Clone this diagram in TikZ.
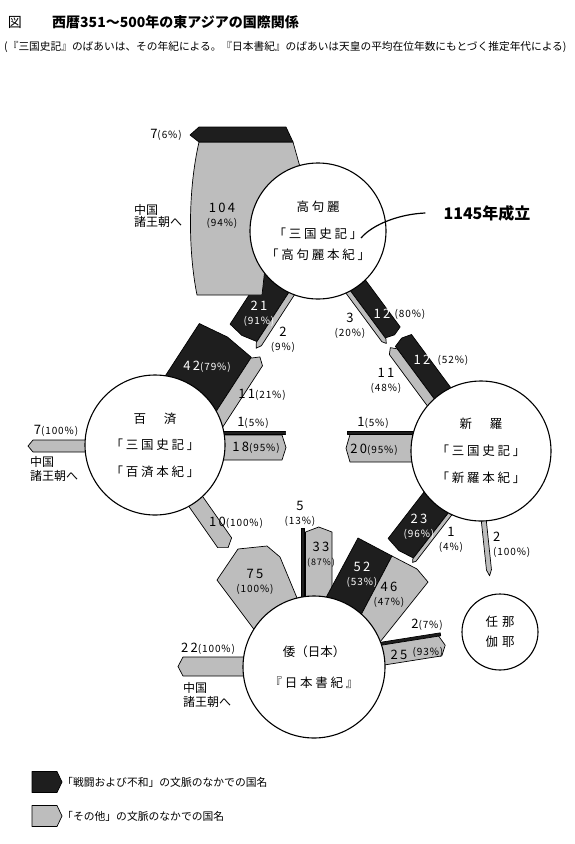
\documentclass[tikz,border=0pt]{standalone}
\usepackage{fontspec}
\setmainfont{Noto Sans CJK JP}
\newfontfamily\bookfont[LetterSpace=22]{Noto Sans CJK JP}
\newfontfamily\numfont[LetterSpace=18]{Noto Sans CJK JP}
\newfontfamily\pctfont[LetterSpace=9]{Noto Sans CJK JP}
\definecolor{inkdark}{HTML}{1E1E1E}
\definecolor{inkgrey}{HTML}{BDBDBD}
% one flow band: [tip]{style}{origin}{angle}{side a}{side b}{length}
\newcommand{\flowband}[7][4]{%
  \pgfmathsetmacro{\bandmid}{(#5+#6)/2}%
  \pgfmathsetmacro{\bandtip}{#7+#1}%
  \begin{scope}[shift={(#3)},rotate=#4]
    \draw[#2] (0,#5) -- (#7,#5) -- (\bandtip,\bandmid) -- (#7,#6) -- (0,#6) -- cycle;
  \end{scope}}
\newcommand{\share}[2]{{\numfont\fontsize{13}{13}\selectfont #1}\\{(#2\%)}}
\newcommand{\sharein}[2]{{\numfont\fontsize{13}{13}\selectfont #1}(#2\%)}

\begin{document}
\begin{tikzpicture}[x=1pt,y=-1pt,
    country/.style={circle,draw,fill=white,line width=1.1pt,inner sep=0pt,align=center,
      font=\bookfont\fontsize{12.5}{21}\selectfont},
    battleband/.style={draw,fill=inkdark,line width=0.7pt,line join=round},
    otherband/.style={draw,fill=inkgrey,line width=0.7pt,line join=round},
    count/.style={inner sep=0pt,align=center,font=\pctfont\fontsize{10}{14}\selectfont},
    whitecount/.style={count,text=white},
    bignum/.style={inner sep=0pt,font=\numfont\fontsize{13}{13}\selectfont},
    dest/.style={inner sep=0pt,anchor=west,align=left,font=\fontsize{12}{14}\selectfont},
  ]
  \useasboundingbox (0,0) rectangle (575,844);

  % title
  \node (fig) at (15,22) [inner sep=0pt,font=\fontsize{14}{14}\selectfont] {図};
  \node (title) at (52,22) [inner sep=0pt,anchor=west,font=\fontsize{14}{14}\selectfont\bfseries] {西暦351～500年の東アジアの国際関係};
  \node (subtitle) at (4,47) [inner sep=0pt,anchor=west,font=\fontsize{10.7}{11}\selectfont] {(『三国史記』のばあいは、その年紀による。『日本書紀』のばあいは天皇の平均在位年数にもとづく推定年代による)};

  \coordinate (k0) at (318,231);
  \coordinate (p0) at (155,445);
  \coordinate (s0) at (481,451);
  \coordinate (w0) at (314,667);
  \coordinate (m0) at (500,632);

  % Koguryo -> Paekche
  \flowband[3]{battleband}{k0}{-123}{23}{-9}{126}
  \flowband[5]{otherband}{k0}{-123}{-9}{-15}{127}
  % Koguryo -> China
  \draw[otherband] (199,142) -- (293,142) -- (318,231) -- (265,268) -- (262,295) -- (197,295)
    .. controls (188,250) and (188,190) .. (199,142) -- cycle;
  \draw[battleband] (190,135) -- (199,127) -- (286,127) -- (293,142) -- (199,142) -- cycle;
  % Paekche -> Koguryo
  \flowband[4]{battleband}{p0}{57}{-29}{33}{126}
  \flowband[6]{otherband}{p0}{57}{33}{47}{125}
  % Koguryo -> Silla
  \flowband[3]{battleband}{k0}{-53.5}{-9}{9.5}{126}
  \flowband[4]{otherband}{k0}{-53.5}{9.5}{14.5}{127}
  % Silla -> Koguryo
  \flowband[3]{battleband}{s0}{126.5}{13.4}{-6.6}{135}
  \flowband[5]{otherband}{s0}{126.5}{-6.6}{-16.3}{132}
  % Paekche -> Silla
  \flowband[0]{battleband}{p0}{0}{-13.5}{-10.5}{130}
  \flowband[4]{otherband}{p0}{0}{-10}{15}{127}
  % Silla -> Paekche
  \flowband[0]{battleband}{s0}{180}{20}{17}{134}
  \flowband[4]{otherband}{s0}{180}{16.5}{-11}{131}
  % Paekche -> China
  \flowband[5]{otherband}{p0}{180}{5}{-7}{122}
  % Paekche -> Wa
  \flowband[6]{otherband}{p0}{-55}{7.5}{-9.5}{120}
  % Wa -> Paekche
  \draw[otherband] (262,640) -- (217,580) -- (238,549) -- (267,546) -- (280,557) -- (302,610) -- cycle;
  % Wa -> Koguryo
  \flowband[0]{battleband}{w0}{90}{-13}{-9.5}{139}
  \flowband[5]{otherband}{w0}{90}{-8.5}{18}{135}
  % Wa -> Silla
  \draw[battleband] (321,607) -- (358,538) -- (392,556) -- (351,634) -- cycle;
  \draw[otherband] (351,634) -- (392,556) -- (417,569) -- (428,582) -- (372,652) -- cycle;
  % Silla -> Wa
  \flowband[3]{battleband}{s0}{-127.7}{20}{-12}{126}
  \flowband[3]{otherband}{s0}{-127.7}{-12}{-16}{127}
  % Silla -> Mimana
  \flowband[6]{otherband}{s0}{-84}{2}{7}{119}
  % Wa -> Mimana
  \flowband[0]{battleband}{w0}{9}{-14}{-11}{130}
  \flowband[5]{otherband}{w0}{9}{-11}{9}{128}
  % Wa -> China
  \flowband[5]{otherband}{w0}{180}{10}{-9}{131}

  % countries
  \node (koguryo) at (k0) [country,minimum size=136pt] {高句麗\\[6pt]「三国史記」\\「高句麗本紀」};
  \node (paekche) at (p0) [country,minimum size=140pt] {百　済\\[5pt]「三国史記」\\[6pt]「百済本紀」};
  \node (silla) at (s0) [country,minimum size=140pt] {新　羅\\[6pt]「三国史記」\\[6pt]「新羅本紀」};
  \node (wa) at (w0) [country,minimum size=142pt] {{\normalfont 倭（日本）}\\[10pt]『日本書紀』};
  \node (mimana) at (m0) [country,minimum size=76pt,font=\bookfont\fontsize{12.5}{20}\selectfont] {任\hspace{4pt}那\\伽\hspace{4pt}耶};

  % counts
  \node (c7a) at (166,135) [count] {\sharein{7}{6}};
  \node (c104) at (222,216) [count] {\share{104}{94}};
  \node (toChinaA) at (134,216) [dest] {中国\\[-2pt]諸王朝へ};
  \node (c21) at (259,314) [whitecount] {\share{21}{91}};
  \node (c2a) at (283,340) [count] {\share{2}{9}};
  \node (c42) at (207,367) [whitecount] {\sharein{42}{79}};
  \node (c11a) at (262,395) [count] {\sharein{11}{21}};
  \node (c12a) at (382,314) [bignum,text=white] {12};
  \node (p80) at (410,314) [count] {(80\%)};
  \node (c3) at (350,326) [count] {\share{3}{20}};
  \node (c12b) at (422,360) [bignum,text=white] {12};
  \node (p52) at (453,360) [count] {(52\%)};
  \node (c11b) at (386,381) [count] {\share{11}{48}};
  \node (c1a) at (253,423) [count] {\sharein{1}{5}};
  \node (c18) at (256,448) [count] {\sharein{18}{95}};
  \node (c1b) at (373,423) [count] {\sharein{1}{5}};
  \node (c20) at (374,450) [count] {\sharein{20}{95}};
  \node (c7b) at (56,431) [count] {\sharein{7}{100}};
  \node (toChinaB) at (30,469) [dest] {中国\\諸王朝へ};
  \node (c10) at (236,523) [count] {\sharein{10}{100}};
  \node (c75) at (255,582) [count] {\share{75}{100}};
  \node (c5) at (300,514) [count] {\share{5}{13}};
  \node (c33) at (321,555) [count,font=\pctfont\fontsize{9}{14}\selectfont] {\share{33}{87}};
  \node (c52) at (362,575) [whitecount] {\share{52}{53}};
  \node (c46) at (389,595) [count] {\share{46}{47}};
  \node (c23) at (419,527) [whitecount] {\share{23}{96}};
  \node (c1c) at (451,540) [count] {\share{1}{4}};
  \node (c2b) at (493,545) [count,anchor=west,align=left] {\share{2}{100}};
  \node (c2c) at (427,625) [count] {\sharein{2}{7}};
  \node (c25) at (399,655) [bignum] {25};
  \node (p93) at (428,652) [count] {(93\%)};
  \node (c22) at (208,649) [count] {\sharein{22}{100}};
  \node (toChinaC) at (183,695) [dest] {中国\\諸王朝へ};

  % handwritten note
  \node (memo) at (487,213) [inner xsep=18pt,inner ysep=0pt,font=\fontsize{16}{16}\selectfont\bfseries] {1145年成立};
  \coordinate (memotail) at (361,238);
  \draw[line width=1.2pt] (memotail) .. controls (373,224) and (400,214) .. (memo.west);

  % legend
  \coordinate (legdark) at (32,782);
  \coordinate (leggrey) at (32,816);
  \flowband[5]{battleband}{legdark}{0}{-10.5}{10.5}{25}
  \flowband[5]{otherband}{leggrey}{0}{-10.5}{10.5}{25}
  \node (legdarktext) at (62,782) [inner sep=0pt,anchor=west,font=\fontsize{10.8}{11}\selectfont] {「戦闘および不和」の文脈のなかでの国名};
  \node (leggreytext) at (62,816) [inner sep=0pt,anchor=west,font=\fontsize{10.8}{11}\selectfont] {「その他」の文脈のなかでの国名};
\end{tikzpicture}
\end{document}
